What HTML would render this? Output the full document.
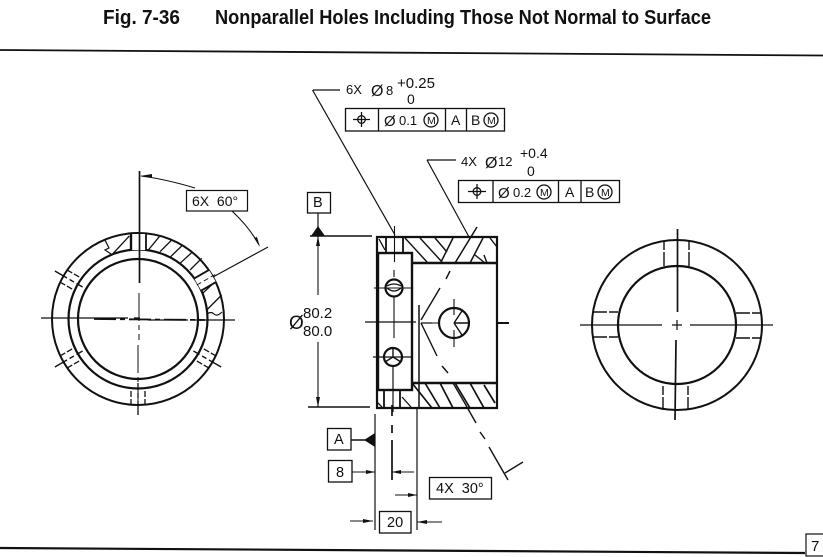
<!DOCTYPE html>
<html><head><meta charset="utf-8"><style>
html,body{margin:0;padding:0;background:#fff;width:823px;height:557px;overflow:hidden}
svg{display:block}
text{font-family:"Liberation Sans",sans-serif;fill:#111}
.t{font-size:13px}
.b{font-size:14.500px}
</style></head><body>
<svg width="823" height="557" viewBox="0 0 823 557" xmlns="http://www.w3.org/2000/svg">
<defs>
<g id="holeD" fill="none" stroke="#111" stroke-width="1.3">
<line x1="131" y1="233" x2="131" y2="250" stroke-dasharray="6 2"/><line x1="145" y1="233" x2="145" y2="250" stroke-dasharray="6 2"/>
<line x1="138" y1="223" x2="138" y2="255" stroke-dasharray="14 3 5 3"/>
</g>
</defs>
<rect width="823" height="557" fill="#fff"/>
<text x="103" y="24" font-size="20" font-weight="700" textLength="77" lengthAdjust="spacingAndGlyphs">Fig. 7-36</text>
<text x="215" y="24" font-size="20" font-weight="700" textLength="496" lengthAdjust="spacingAndGlyphs">Nonparallel Holes Including Those Not Normal to Surface</text>
<line x1="0" y1="50" x2="823" y2="55.500" stroke="#111" stroke-width="1.8"/>
<line x1="0" y1="548" x2="805" y2="553" stroke="#111" stroke-width="2.2"/>
<rect x="806" y="534" width="20" height="22" fill="#fff" stroke="#111" stroke-width="1.2"/>
<text x="811" y="551" font-size="15">7</text>

<!-- LEFT VIEW -->
<g fill="none" stroke="#111">
<path d="M111.700 255L129.300 236M148.300 250L159.300 236.700M160 251.700L171.700 240M170 257.300L182.700 245M180 263.300L192.700 251.700M190 270L201.700 258.300M203 293L215 281.700M206.700 310L221.700 295" stroke-width="1.3"/>
<path d="M105 240l4 8-4 2 6 4" stroke-width="1.2"/>
<path d="M207 314q4-3 7 0t8-2" stroke-width="1.2"/>
<circle cx="138" cy="319" r="86" stroke-width="2"/>
<circle cx="138" cy="319" r="69.500" stroke-width="2.200"/>
<circle cx="138" cy="319" r="60" stroke-width="2.200"/>
<use href="#holeD" transform="rotate(-60 138 319)"/>
<use href="#holeD" transform="rotate(-120 138 319)"/>
<use href="#holeD" transform="rotate(120 138 319)"/>
<use href="#holeD" transform="rotate(180 138 319)"/>
<!-- hole 0 -->
<rect x="131" y="234" width="15" height="16" fill="#fff" stroke="none"/>
<line x1="131" y1="234" x2="131" y2="250" stroke-width="2.400"/>
<line x1="146" y1="234" x2="146" y2="250" stroke-width="1.800"/>
<!-- hole 60 -->
<g transform="rotate(60 138 319)">
<rect x="131" y="233" width="14" height="17" fill="#fff" stroke="none"/>
<line x1="131" y1="233" x2="131" y2="250" stroke-width="1.800"/>
<line x1="145" y1="233" x2="145" y2="250" stroke-width="1.800"/>
<line x1="138" y1="230" x2="138" y2="254" stroke-width="1" stroke-dasharray="5 3"/>
</g>
<path d="M41 318H128M134 318H140M148 320H188M194 320H235" stroke-width="1.300"/>
<line x1="94" y1="319" x2="205" y2="320" stroke-width="1.800" stroke-dasharray="22 4 5 4"/>
<line x1="139.500" y1="171" x2="139.500" y2="283" stroke-width="1.700"/>
<path d="M139 293V340M138 345V415" stroke-width="1" stroke-dasharray="28 4 5 4"/>
<line x1="213" y1="277" x2="268" y2="247" stroke-width="1.200"/>
<path d="M141 176Q165 179 195 188M232 211Q250 228 259 245" stroke-width="1.100"/>
</g>
<path d="M140 176l12-2v4zM260 247l-6-9 3-1z" fill="#111"/>
<rect x="186.500" y="190.500" width="61" height="20.500" fill="#fff" stroke="#111" stroke-width="1.200"/>
<text x="192" y="206" font-size="14" xml:space="preserve">6X  60°</text>

<!-- MIDDLE VIEW -->
<g fill="none" stroke="#111">
<path d="M377 237H497V408H377Z" stroke-width="2.200"/>
<rect x="378" y="253" width="34" height="137" stroke-width="2.400"/>
<path d="M412 263H497M412 383H497" stroke-width="2.500"/>
<path d="M386 237V253M403 237V253M384 390V408M400 390V408" stroke-width="1.800"/>
<path d="M379 239L385 250M377 402l5 5M402 397l9 10" stroke-width="1.300"/>
<path d="M405 238L427 262M420 238L442 262M435 238L447 252M484 255L487 263M475 255L485 263M490 238L497 247" stroke-width="1.400"/>
<path d="M412 383L432 408M425 383L440 408M440 383L453 408M455 383L470 408M470 383L484 408M484 385L495 403" stroke-width="1.700"/>
<path d="M483 238L470 263M453 238L441 262M477 227L455 263" stroke-width="1.500"/>
<!-- leaders -->
<path d="M313 90H340M312.500 90L395 235" stroke-width="1.200"/>
<path d="M427 160H456M427 160L469 237" stroke-width="1.200"/>
<line x1="394.500" y1="226" x2="394.500" y2="262" stroke-width="1.100"/>
<!-- circles -->
<circle cx="394" cy="288" r="8.500" stroke-width="2.200"/>
<path d="M387 286Q394 282 401 286M387 288Q394 294 401 288" stroke-width="1.200"/>
<path d="M374 288H412M394 270V277M394 297V338" stroke-width="1.100"/>
<circle cx="393" cy="357" r="9" stroke-width="2.200"/>
<path d="M393 357V348M393 357L385 362M393 357L401 362" stroke-width="1.400"/>
<path d="M373 357H412M393 367V412" stroke-width="1.200"/>
<circle cx="454" cy="323" r="15" stroke-width="2.200"/>
<path d="M454 323L462 311M454 323L468 323M454 323L462 335" stroke-width="1.400"/>
<path d="M454 299V315M454 330V347M432 323H438" stroke-width="1.100"/>
<path d="M365 322H416M421 323H432M497 323H509" stroke-width="1.200"/>
<line x1="497" y1="323" x2="509" y2="323" stroke-width="2"/>
<!-- V -->
<path d="M421 320L440 288M446 279L450 271M421 323L437 356M442 366L448 373M463 400L476 423M480 432L485 439M489 447L508 480M453 383L463 400M505 473L523 462" stroke-width="1.400"/>
<line x1="419" y1="305" x2="419" y2="409" stroke-width="1.500"/>
<line x1="417" y1="408" x2="417" y2="530" stroke-width="1.200"/>
<line x1="375" y1="414" x2="375" y2="530" stroke-width="1.200"/>
<path d="M392 405V416M392 425V433M392 440V480" stroke-width="1.700"/>
<!-- dims -->
<path d="M310 236H372M308 407H370" stroke-width="1.400"/>
<path d="M318 236V295M318 342V407" stroke-width="1.100"/>
<line x1="318" y1="213" x2="318" y2="228" stroke-width="1.200"/>
<path d="M351 440H366" stroke-width="1.500"/>
<path d="M352 472H375M392 472H414M395 495H417M350 521H373M417 522H442" stroke-width="1.100"/>
</g>
<path d="M311 236L318 226L325 236ZM375 433V447L364 440ZM375 472l-9-2v4zM392 472l9-2v4zM417 495l-9-2v4zM373 521l-10-2v4zM417 522l10-2v4zM318 236l-2 10h4zM318 407l-2-10h4z" fill="#111"/>
<rect x="307.500" y="192.500" width="23" height="20.500" fill="#fff" stroke="#111" stroke-width="1.300"/>
<text x="313" y="207" class="b">B</text>
<text x="289" y="329" font-size="19">Ø</text>
<text x="303" y="318" font-size="15">80.2</text>
<text x="303" y="336" font-size="15">80.0</text>
<rect x="327.500" y="428.500" width="23.500" height="21.500" fill="#fff" stroke="#111" stroke-width="1.300"/>
<text x="334" y="444" class="b">A</text>
<rect x="328.500" y="460.500" width="23.500" height="21.500" fill="#fff" stroke="#111" stroke-width="1.300"/>
<text x="336" y="477" class="b">8</text>
<rect x="429.500" y="477.500" width="62" height="21.500" fill="#fff" stroke="#111" stroke-width="1.300"/>
<text x="436" y="493" class="b" xml:space="preserve">4X  30°</text>
<rect x="379.500" y="511.500" width="31.500" height="21.500" fill="#fff" stroke="#111" stroke-width="1.300"/>
<text x="387" y="527" class="b">20</text>

<!-- Callout 1 -->
<text x="346" y="94" class="t">6X</text>
<text x="371" y="96" font-size="16">Ø</text>
<text x="386" y="95" class="t">8</text>
<text x="397" y="88" font-size="15">+0.25</text>
<text x="407" y="104" font-size="14">0</text>
<g fill="none" stroke="#111" stroke-width="1.300">
<rect x="345.500" y="108.500" width="159" height="22.500"/>
<path d="M378.500 108V131M445.500 108V131M466.500 108V131"/>
<circle cx="361.500" cy="119.500" r="3.800"/><path d="M353 119.500H370M361.500 112V127"/>
<circle cx="431" cy="120" r="7"/><circle cx="491" cy="120" r="7"/>
</g>
<text x="384" y="126" font-size="15">Ø</text>
<text x="399" y="125" class="t">0.1</text>
<text x="427" y="124" font-size="10.500">M</text>
<text x="451" y="125" font-size="14">A</text>
<text x="471" y="125" font-size="14">B</text>
<text x="487" y="124" font-size="10.500">M</text>

<!-- Callout 2 -->
<text x="461" y="166" class="t">4X</text>
<text x="485" y="168" font-size="16">Ø</text>
<text x="498" y="166" class="t">12</text>
<text x="520" y="158" font-size="14">+0.4</text>
<text x="527" y="176" font-size="14">0</text>
<g fill="none" stroke="#111" stroke-width="1.300">
<rect x="458.500" y="180.500" width="161" height="22"/>
<path d="M493 180V203M558.500 180V203M581 180V203"/>
<circle cx="477" cy="191.500" r="3.800"/><path d="M468 191.500H486M477 184V199"/>
<circle cx="544" cy="192" r="7"/><circle cx="605" cy="192" r="7"/>
</g>
<text x="498" y="198" font-size="15">Ø</text>
<text x="513" y="197" class="t">0.2</text>
<text x="540" y="196" font-size="10.500">M</text>
<text x="565" y="197" font-size="14">A</text>
<text x="585" y="197" font-size="14">B</text>
<text x="601" y="196" font-size="10.500">M</text>

<!-- RIGHT VIEW -->
<g fill="none" stroke="#111">
<circle cx="677" cy="325" r="85" stroke-width="2"/>
<circle cx="677" cy="325" r="59" stroke-width="2.200"/>
<path d="M664 241V267M689 241V267M663 386V410M688 386V410" stroke-width="1.400" stroke-dasharray="9 2 14 2"/>
<path d="M593 312H618M593 337H618M736 313H762M736 338H762" stroke-width="1.400" stroke-dasharray="14 2 9 2"/>
<line x1="677.500" y1="229" x2="677.500" y2="312" stroke-width="1.700"/>
<line x1="676" y1="340" x2="675" y2="420" stroke-width="1.700"/>
<path d="M580 325H662M672 325H682M690 325H773" stroke-width="1.200"/>
<path d="M677 320V330" stroke-width="1.200"/>
</g>
</svg>
</body></html>
